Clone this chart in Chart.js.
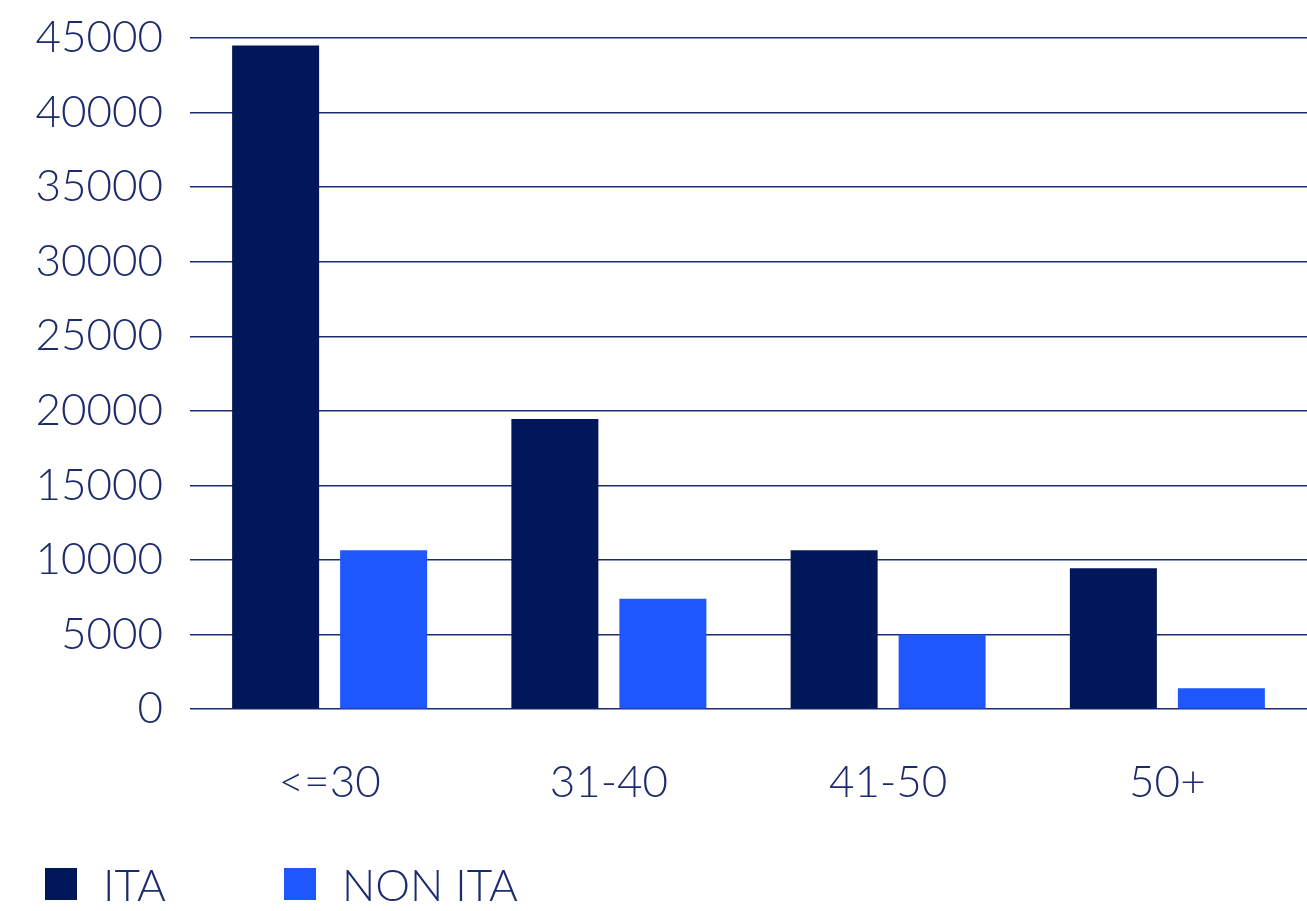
<!DOCTYPE html>
<html>
<head>
<meta charset="utf-8">
<script src="https://cdn.jsdelivr.net/npm/chart.js@4.4.0/dist/chart.umd.min.js"></script>
<style>
    html, body { margin: 0; padding: 0; background: #fff; }
    #wrap { position: relative; width: 1307px; height: 911px; }
    #legend { position: absolute; left: 45px; top: 868px; display: flex; }
    .item { display: flex; align-items: center; width: 239px; height: 32px; }
    .box { width: 32px; height: 32px; margin-right: 26px; }
    .txt { font-family: Lato, sans-serif; font-weight: 300; font-size: 44px; line-height: 32px; color: #1c2b6e; white-space: nowrap; }
</style>
</head>
<body>
<div id="wrap">
    <canvas id="barChart" width="1307" height="911"></canvas>
    <div id="legend"></div>
</div>
<script>
// --- DATA ---
const categories = ['<=30', '31-40', '41-50', '50+'];
const seriesNames = ['ITA', 'NON ITA'];
const itaValues = [44500, 19450, 10650, 9450];
const nonItaValues = [10650, 7400, 5000, 1400];
const yTicks = [0, 5000, 10000, 15000, 20000, 25000, 30000, 35000, 40000, 45000];

const colors = ['#001759', '#1f57ff'];
const textColor = '#1c2b6e';

document.addEventListener('DOMContentLoaded', () => {
    const ctx = document.getElementById('barChart').getContext('2d');
    const font = { family: 'Lato, sans-serif', size: 44, weight: 300 };
    const yFont = { family: 'Lato, sans-serif', size: 44, weight: 300, lineHeight: 0.5 };

    new Chart(ctx, {
        type: 'bar',
        data: {
            labels: categories,
            datasets: [
                { label: seriesNames[0], data: itaValues, backgroundColor: colors[0] },
                { label: seriesNames[1], data: nonItaValues, backgroundColor: colors[1] }
            ]
        },
        options: {
            responsive: false,
            animation: false,
            layout: { padding: { top: 0, bottom: 63, left: 0, right: 0 } },
            categoryPercentage: 0.7735,
            barPercentage: 0.8056,
            scales: {
                x: {
                    grid: { display: false },
                    border: { display: false },
                    ticks: { color: textColor, font: font, padding: 39, maxRotation: 0 }
                },
                y: {
                    min: 0,
                    max: yTicks[yTicks.length - 1],
                    afterBuildTicks: axis => { axis.ticks = yTicks.map(v => ({ value: v })); },
                    afterFit: axis => { axis.width = 190; },
                    grid: { color: textColor, lineWidth: 1.5, drawTicks: false },
                    border: { display: false },
                    ticks: { color: textColor, font: yFont, padding: 27, callback: v => String(v) }
                }
            },
            plugins: {
                legend: { display: false },
                tooltip: { enabled: false }
            }
        }
    });

    // legend built from the series names / colours
    const legend = document.getElementById('legend');
    seriesNames.forEach((name, i) => {
        const item = document.createElement('div');
        item.className = 'item';
        item.innerHTML = '<div class="box" style="background:' + colors[i] + '"></div><span class="txt">' + name + '</span>';
        legend.appendChild(item);
    });
});
</script>
</body>
</html>
